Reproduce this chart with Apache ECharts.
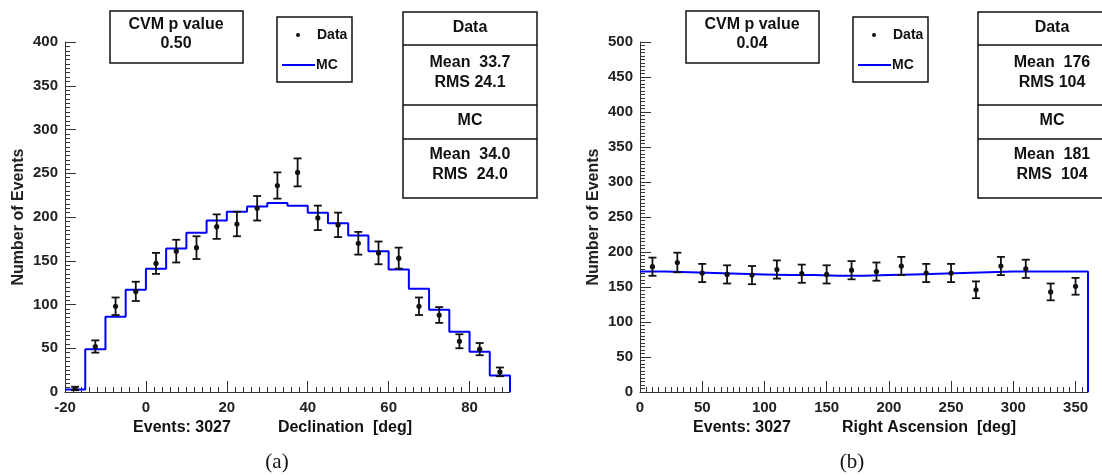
<!DOCTYPE html>
<html><head><meta charset="utf-8">
<script src="https://cdn.jsdelivr.net/npm/echarts@6/dist/echarts.min.js"></script>
<style>html,body{margin:0;padding:0;background:#fff}#c{width:1102px;height:475px}</style>
</head><body><div id="c"></div>
<script>
// ---- Panel (a): Declination ----
const decCenters = [-17.5,-12.5,-7.5,-2.5,2.5,7.5,12.5,17.5,22.5,27.5,32.5,37.5,42.5,47.5,52.5,57.5,62.5,67.5,72.5,77.5,82.5,87.5];
const decData = [4,52,98,115,147,161,165,189,192,210,236,251,199,191,170,159,153,98,88,58,49,23];
const decErr  = [2,7,10,11,12,13,13,14,14,14,15,16,14,14,13,13,12,10,9,8,7,5];
const decMC   = [3,49,86,117,141,164,182,196,206,212,216,213,205,193,179,161,140,118,94,69,46,19];
const decBinWidth = 5;
const decXRange = [-20, 90], decXStep = 20;
const decYRange = [0, 400], decYStep = 50;

// ---- Panel (b): Right Ascension ----
const raCenters = [10,30,50,70,90,110,130,150,170,190,210,230,250,270,290,310,330,350];
const raData = [179,185,170,168,167,175,169,168,174,172,180,170,170,146,180,176,143,151];
const raErr  = [13,14,13,13,13,13,13,13,13,13,13,13,13,12,13,13,12,12];
const raMC   = [172,171,170,169,168,167,167,166,166,167,168,169,170,171,172,172,172,172];
const raBinWidth = 20;
const raXRange = [0, 360], raXStep = 50;
const raYRange = [0, 500], raYStep = 50;

// ---- text ----
const panelA = {cvm:'0.50', dataMean:'Mean  33.7', dataRms:'RMS 24.1', mcMean:'Mean  34.0', mcRms:'RMS  24.0', xTitle:'Declination  [deg]', caption:'(a)'};
const panelB = {cvm:'0.04', dataMean:'Mean  176', dataRms:'RMS 104', mcMean:'Mean  181', mcRms:'RMS  104', xTitle:'Right Ascension  [deg]', caption:'(b)'};
const eventsText = 'Events: 3027';
const yTitle = 'Number of Events';

function stepPoints(centers, vals, w){
  const pts = centers.map((c,i)=>[c - w/2, vals[i]]);
  const last = centers[centers.length-1] + w/2;
  pts.push([last, vals[vals.length-1]]);
  pts.push([last, 0]);
  return pts;
}
function errData(centers, vals, errs){ return centers.map((c,i)=>[c, vals[i], errs[i]]); }

function renderErr(params, api){
  const x = api.value(0), y = api.value(1), e = api.value(2);
  const lo = api.coord([x, y - e]), hi = api.coord([x, y + e]), p = api.coord([x, y]);
  const cw = 4;
  const st = {stroke:'#111', lineWidth:1.8};
  return {type:'group', children:[
    {type:'line', shape:{x1:lo[0], y1:lo[1], x2:hi[0], y2:hi[1]}, style:st},
    {type:'line', shape:{x1:lo[0]-cw, y1:lo[1], x2:lo[0]+cw, y2:lo[1]}, style:st},
    {type:'line', shape:{x1:hi[0]-cw, y1:hi[1], x2:hi[0]+cw, y2:hi[1]}, style:st},
    {type:'circle', shape:{cx:p[0], cy:p[1], r:2.6}, style:{fill:'#111'}}
  ]};
}

const FONT = 'Liberation Sans, Arial, sans-serif';
const lblStyle = {color:'#222', fontWeight:'bold', fontSize:15, fontFamily:FONT};

function xAxisCfg(idx, range, step){
  return {type:'value', gridIndex:idx, min:range[0], max:range[1], interval:step,
    axisLine:{show:true, onZero:false, lineStyle:{color:'#333', width:1}},
    axisTick:{show:true, inside:true, length:11, lineStyle:{color:'#333'}},
    minorTick:{show:true, splitNumber:10, length:5, lineStyle:{color:'#333'}},
    splitLine:{show:false}, minorSplitLine:{show:false},
    axisLabel:Object.assign({margin:8, showMaxLabel:false}, lblStyle)};
}
function yAxisCfg(idx, range, step){
  return {type:'value', gridIndex:idx, min:range[0], max:range[1], interval:step,
    axisLine:{show:true, onZero:false, lineStyle:{color:'#333', width:1}},
    axisTick:{show:true, inside:true, length:11, lineStyle:{color:'#333'}},
    minorTick:{show:true, splitNumber:10, length:5, lineStyle:{color:'#333'}},
    splitLine:{show:false}, minorSplitLine:{show:false},
    axisLabel:Object.assign({margin:7}, lblStyle),
    name:yTitle, nameLocation:'middle', nameRotate:90, nameGap:38,
    nameTextStyle:{color:'#222', fontWeight:'bold', fontSize:16, fontFamily:FONT}};
}

function boxGraphics(o, p){
  const els = [];
  const bold16 = 'bold 16px ' + FONT;
  const st = {fill:'#fff', stroke:'#111', lineWidth:1.5};
  const txt = (t,x,y,align,font)=>({type:'text', z:101, style:{text:t, x:x, y:y, textAlign:align||'center', textVerticalAlign:'middle', font:font||bold16, fill:'#111'}});
  // CVM box
  els.push({type:'rect', z:100, shape:{x:o.cvmX, y:11, width:133, height:52}, style:st});
  els.push(txt('CVM p value', o.cvmX+66, 25));
  els.push(txt(p.cvm, o.cvmX+66, 44));
  // legend box
  els.push({type:'rect', z:100, shape:{x:o.legX, y:17, width:75, height:65}, style:st});
  els.push({type:'circle', z:101, shape:{cx:o.legX+21, cy:35, r:2}, style:{fill:'#111'}});
  els.push(txt('Data', o.legX+40, 35, 'left', 'bold 14px '+FONT));
  els.push({type:'line', z:101, shape:{x1:o.legX+5, y1:65, x2:o.legX+38, y2:65}, style:{stroke:'#0000ff', lineWidth:2}});
  els.push(txt('MC', o.legX+39, 65, 'left', 'bold 14px '+FONT));
  // stats box
  const sx = o.statX, sw = o.statW, cx = o.statCx;
  els.push({type:'rect', z:100, shape:{x:sx, y:12, width:sw, height:186}, style:st});
  [45,105,139].forEach(y=>els.push({type:'line', z:101, shape:{x1:sx, y1:y, x2:sx+sw, y2:y}, style:{stroke:'#111', lineWidth:1.5}}));
  els.push(txt('Data', cx, 28));
  els.push(txt(p.dataMean, cx, 63));
  els.push(txt(p.dataRms, cx, 83));
  els.push(txt('MC', cx, 121));
  els.push(txt(p.mcMean, cx, 155));
  els.push(txt(p.mcRms, cx, 175));
  // axis titles
  els.push(txt(eventsText, o.evX, 428, 'center', 'bold 16px '+FONT));
  els.push(txt(p.xTitle, o.xtX, 428, 'center', 'bold 16px '+FONT));
  els.push(txt(p.caption, o.capX, 462, 'center', '21px "Liberation Serif", "DejaVu Serif", serif'));
  return els;
}

const chart = echarts.init(document.getElementById('c'), null, {renderer:'canvas'});
chart.setOption({
  backgroundColor:'#fff',
  animation:false,
  grid:[
    {left:65, top:42, width:445, height:350},
    {left:640, top:42, width:448, height:350}
  ],
  xAxis:[xAxisCfg(0, decXRange, decXStep), xAxisCfg(1, raXRange, raXStep)],
  yAxis:[yAxisCfg(0, decYRange, decYStep), yAxisCfg(1, raYRange, raYStep)],
  series:[
    {type:'line', xAxisIndex:0, yAxisIndex:0, step:'end', symbol:'none', data:stepPoints(decCenters, decMC, decBinWidth), lineStyle:{color:'#0000ff', width:2}, z:2},
    {type:'custom', xAxisIndex:0, yAxisIndex:0, renderItem:renderErr, data:errData(decCenters, decData, decErr), z:3},
    {type:'line', xAxisIndex:1, yAxisIndex:1, step:'end', symbol:'none', data:stepPoints(raCenters, raMC, raBinWidth), lineStyle:{color:'#0000ff', width:2}, z:2},
    {type:'custom', xAxisIndex:1, yAxisIndex:1, renderItem:renderErr, data:errData(raCenters, raData, raErr), z:3}
  ],
  graphic:[].concat(
    boxGraphics({cvmX:110, legX:277, statX:403, statW:134, statCx:470, evX:182, xtX:345, capX:277}, panelA),
    boxGraphics({cvmX:686, legX:853, statX:978, statW:150, statCx:1052, evX:742, xtX:929, capX:852}, panelB)
  )
});
</script></body></html>
